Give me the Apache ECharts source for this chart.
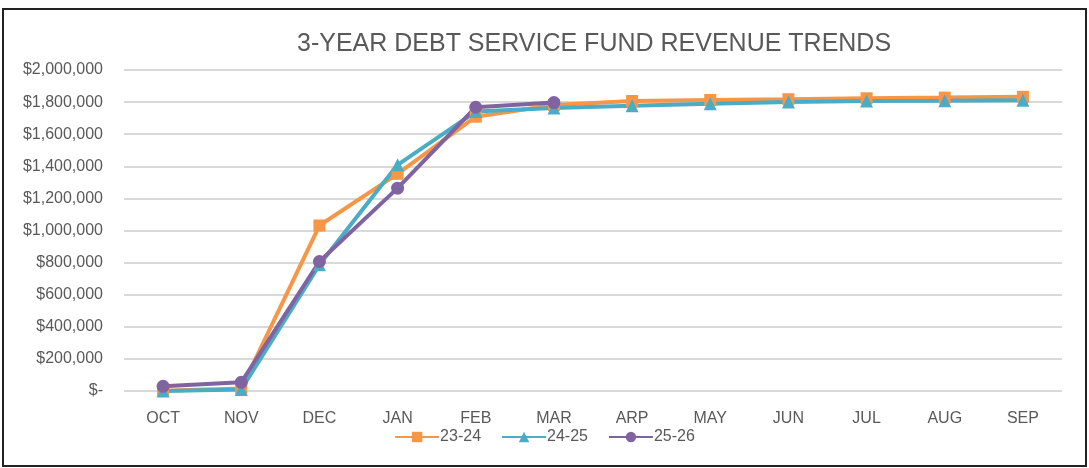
<!DOCTYPE html>
<html>
<head>
<meta charset="utf-8">
<script src="https://cdn.jsdelivr.net/npm/echarts@6/dist/echarts.min.js"></script>
<style>
  html, body { margin: 0; padding: 0; background: #fff; }
  #main { width: 1089px; height: 468px; }
</style>
</head>
<body>
<div id="main"></div>
<script>
var months = ['OCT', 'NOV', 'DEC', 'JAN', 'FEB', 'MAR', 'ARP', 'MAY', 'JUN', 'JUL', 'AUG', 'SEP'];
var fy2324 = [2000, 15000, 1031000, 1353000, 1709000, 1782000, 1807000, 1813000, 1818000, 1824000, 1828000, 1833000];
var fy2425 = [0, 10000, 786000, 1409000, 1741000, 1764000, 1778000, 1790000, 1801000, 1807000, 1809000, 1812000];
var fy2526 = [29000, 54000, 807000, 1264000, 1768000, 1797000];

var font = '"Liberation Sans", Arial, sans-serif';

var myChart = echarts.init(document.getElementById('main'));
var option = {
    animation: false,
    title: {
        text: '3-YEAR DEBT SERVICE FUND REVENUE TRENDS',
        left: 292,
        top: 27,
        textStyle: { fontFamily: font, fontSize: 25, fontWeight: 'normal', color: '#595959' }
    },
    legend: {
        bottom: 18,
        left: 'center',
        itemWidth: 44,
        itemHeight: 13,
        itemGap: 20,
        textStyle: { fontFamily: font, fontSize: 16, color: '#595959', padding: [0, 0, 0, -4] },
        data: ['23-24', '24-25', '25-26']
    },
    grid: { left: 124, right: 27, top: 70, bottom: 77 },
    xAxis: {
        type: 'category',
        data: months,
        axisLine: { show: false },
        axisTick: { show: false },
        axisLabel: { fontFamily: font, fontSize: 16, color: '#595959', margin: 20 }
    },
    yAxis: {
        type: 'value',
        min: 0,
        max: 2000000,
        interval: 200000,
        splitLine: { lineStyle: { color: '#d9d9d9', width: 2 } },
        axisLabel: {
            fontFamily: font, fontSize: 16, color: '#595959', margin: 21,
            formatter: function (v) {
                return v === 0 ? '$-' : '$' + v.toLocaleString('en-US');
            }
        }
    },
    series: [
        {
            name: '23-24', type: 'line', data: fy2324,
            symbol: 'rect', symbolSize: 12,
            itemStyle: { color: '#F79646' },
            lineStyle: { width: 4, color: '#F79646' }
        },
        {
            name: '24-25', type: 'line', data: fy2425,
            symbol: 'triangle', symbolSize: 13,
            itemStyle: { color: '#4BACC6' },
            lineStyle: { width: 4, color: '#4BACC6' }
        },
        {
            name: '25-26', type: 'line', data: fy2526,
            symbol: 'circle', symbolSize: 13,
            itemStyle: { color: '#8064A2' },
            lineStyle: { width: 4, color: '#8064A2' }
        }
    ],
    graphic: [{
        type: 'rect',
        shape: { x: 3, y: 9, width: 1083, height: 457 },
        style: { fill: 'none', stroke: '#222', lineWidth: 2 },
        silent: true
    }]
};
myChart.setOption(option);
</script>
</body>
</html>
